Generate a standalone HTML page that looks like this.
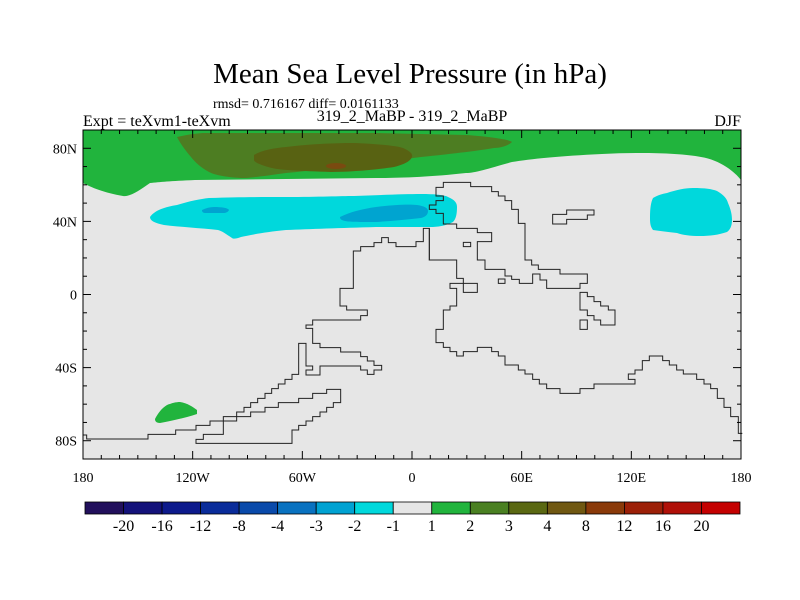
<!DOCTYPE html>
<html><head><meta charset="utf-8"><style>
body{margin:0;background:#fff;}
svg{display:block;font-family:"Liberation Serif",serif;}
</style></head><body>
<svg id="c" width="800" height="600" viewBox="0 0 800 600">
<rect width="800" height="600" fill="#fff"/>
<text x="410" y="83" font-size="29" text-anchor="middle">Mean Sea Level Pressure (in hPa)</text>
<text x="213" y="108" font-size="14">rmsd= 0.716167 diff= 0.0161133</text>
<text x="83" y="126" font-size="16">Expt = teXvm1-teXvm</text>
<text x="412" y="121" font-size="16" text-anchor="middle">319_2_MaBP - 319_2_MaBP</text>
<text x="741" y="126" font-size="16" text-anchor="end">DJF</text>
<g>
<rect x="83" y="130" width="658" height="329" fill="#e6e6e6"/>
<path fill="#21b43d" d="M83,130 H741 V180 C735,172 720,160 701,157 C680,153 640,152 602,154 C560,156 530,159 512,162 C490,168 475,173 466,173 C430,177 400,178 376,178 L286,179 L195,180 C170,181 160,182 150,183 C140,190 130,197 123,196 C105,193 90,187 83,183 Z"/>
<path fill="#4d7d22" d="M177,137 C190,134 200,133 205,133 L286,133 L376,133 L466,135 C495,137 510,140 512,142 C508,146 500,148 494,148 C470,152 440,155 421,157 C390,161 370,163 354,165 C320,169 300,172 286,173 C265,176 250,178 241,178 C225,177 215,175 209,172 C200,167 195,162 191,157 C185,150 180,143 177,137 Z"/>
<path fill="#586212" d="M254,155 C262,150 275,148 286,147 C310,144 335,143 354,143 C380,144 398,146 403,148 C410,151 413,154 412,157 C410,162 402,165 394,167 C375,170 350,172 331,172 C300,171 280,170 272,168 C260,165 254,162 254,160 Z"/>
<ellipse cx="336" cy="166" rx="10" ry="3" fill="#7a4a10"/>
<path fill="#00d8dc" d="M150,217 C155,210 165,207 177,205 C190,201 200,199 209,198 C240,197 260,197 286,197 C320,197 340,196 354,196 C380,195 405,194 421,194 C435,194 445,195 448,197 C455,200 457,203 457,207 C457,214 456,219 453,222 C445,226 438,227 430,227 C410,227 395,227 376,227 C340,228 310,229 286,230 C265,232 250,235 241,237 C236,239 233,239 232,238 C226,234 222,231 218,230 C200,228 180,227 164,225 C155,223 150,221 150,217 Z"/>
<path fill="#00a4d0" d="M202,210 C206,208 210,207 214,207 C222,207 228,208 229,210 C228,212 226,213 223,213 L206,213 C203,213 202,212 202,210 Z"/>
<path fill="#00a4d0" d="M340,217 C350,212 362,209 376,207 C392,205 408,204 417,205 C424,206 428,208 428,211 C428,215 425,217 421,218 C405,220 390,221 376,222 C360,222 350,222 345,221 C341,220 340,219 340,217 Z"/>
<path fill="#00d8dc" d="M653,198 C658,195 662,194 667,193 C676,190 685,188 693,188 C705,188 712,189 717,191 C724,195 727,199 728,203 C731,210 732,215 732,220 C732,226 730,230 727,232 C718,235 710,236 700,236 C690,236 683,235 677,233 C668,232 660,231 653,230 C650,226 650,222 650,217 C650,208 651,202 653,198 Z"/>
<path fill="#21b43d" d="M155,419 C158,413 162,408 167,405 C172,403 176,402 180,402 C187,403 193,407 197,410 L197,414 C185,418 170,421 160,423 C156,423 155,421 155,419 Z"/>
<g fill="none" stroke="#222" stroke-width="1" vector-effect="non-scaling-stroke">
<g transform="translate(400,170) scale(0.33333)">
<path vector-effect="non-scaling-stroke" d="M130,37 H212 V50 H275 V65 H295 V78 H315 V92 H335 V118 H355 V160 H375 V270 H395 V285 H415 V298 H480 V312 H562 V340 H540 V355 H440 V330 H420 V312 H398 V340 H358 V328 H335 V318 H315 V298 H255 V270 H232 V215 H275 V188 H232 V175 H170 V162 H130 V130 H108 V118 H88 V105 H108 V92 H130 V78 H108 V52 H130 Z"/>
<path vector-effect="non-scaling-stroke" d="M88,175 V270 H170 V325 H190 V340 H150 V355 H170 V408 H150 V420 H130 V478 H108 V518 H130 V532 H150 V545 H170 V558 H190 V545 H232 V532 H275 V545 H295 V558 H315 V585 H355 V600 H375 V612 H398 V628 H418 V642 H440 V656 H480 V670 H540 V656 H582 V642 H705 V628 H685 V612 H705 V600 H727 V572 H748 V558 H788 V572 H808 V585 H830 V600 H850 V612 H890 V628 H912 V642 H932 V656 H952 V685 H972 V712 H992 V740 H1015 V790 H1027"/>
<path vector-effect="non-scaling-stroke" d="M458,133 V162 H500 V148 H562 V135 H582 V120 H500 V133 Z"/>
<path vector-effect="non-scaling-stroke" d="M190,217 H212 V230 H190 Z M295,327 H315 V340 H295 Z M540,450 H562 V478 H540 Z M190,340 H232 V367 H190 Z"/>
<path vector-effect="non-scaling-stroke" d="M540,367 V420 H562 V437 H582 V450 H602 V465 H645 V420 H625 V408 H602 V395 H582 V380 H562 V367 Z"/>
</g>
<g transform="translate(80,170) scale(0.33333)">
<path vector-effect="non-scaling-stroke" d="M1080,270 H1048 V175 H1030 V215 H1008 V230 H948 V218 H925 V203 H905 V218 H882 V230 H842 V243 H820 V355 H780 V408 H800 V420 H862 V437 H842 V450 H698 V465 H678 V475 H698 V520 H720 V533 H782 V546 H842 V560 H862 V573 H882 V586 H905 V600 H882 V613 H862 V600 H842 V588 H720 V615 H678 V600 H698 V588 H678 V520 H656 V613 H636 V628 H615 V642 H595 V656 H575 V670 H555 V685 H533 V698 H512 V712 H492 V726 H470 V740 H430 V753 H390 V766 H348 V780 H287 V793 H204 V807 H20 V795 H8"/>
<path vector-effect="non-scaling-stroke" d="M348,808 V820 H636 V780 H656 V766 H678 V753 H698 V740 H720 V726 H740 V712 H760 V698 H782 V658 H740 V670 H698 V685 H656 V698 H595 V712 H555 V726 H512 V740 H470 V753 H430 V793 H370 V808 Z"/>
</g>
</g>
<rect x="83" y="130" width="658" height="329" fill="none" stroke="#000" stroke-width="1"/>
<g id="ticks"></g>
</g>
<g id="cbar"></g>
</svg>
<script>
const lonTicks=[-180,-120,-60,0,60,120,180];
const lonLabels=["180","120W","60W","0","60E","120E","180"];
const latTicks=[80,40,0,-40,-80];
const latLabels=["80N","40N","0","40S","80S"];
const levels=["-20","-16","-12","-8","-4","-3","-2","-1","1","2","3","4","8","12","16","20"];
const levelColors=["#22105c","#14127a","#0d1a8c","#0a2c9a","#0a4aaa","#0a72c0","#00a2d2","#00d8dc","#e6e6e6","#21b43d","#4a8022","#5a6812","#705812","#8a3a0a","#9c2008","#b01008","#c40000"];
const NS="http://www.w3.org/2000/svg";
const X0=83,X1=741,Y0=130,Y1=459;
const xs=l=>X0+(l+180)/360*(X1-X0);
const ys=l=>Y0+(90-l)/180*(Y1-Y0);
function mk(t,a,p){const e=document.createElementNS(NS,t);for(const k in a)e.setAttribute(k,a[k]);p.appendChild(e);return e;}
const tg=document.getElementById('ticks');
for(let l=-180;l<=180;l+=10){
 const x=xs(l),len=(l%60===0)?8:4;
 const a=mk('line',{x1:x,x2:x,y1:Y1,y2:Y1-len,stroke:'#000'},tg);
 
 
 const b=mk('line',{x1:x,x2:x,y1:Y0,y2:Y0+len,stroke:'#000'},tg);
 
 
}
for(let l=-90;l<=90;l+=10){
 const y=ys(l),len=(l%40===0&&Math.abs(l)!==0||l===0)?8:4;
 const a=mk('line',{x1:X0,x2:X0+len,y1:y,y2:y,stroke:'#000'},tg);
 
 
 const b=mk('line',{x1:X1,x2:X1-len,y1:y,y2:y,stroke:'#000'},tg);
 
 
}
lonTicks.forEach((l,i)=>{
 const t=mk('text',{x:xs(l),y:482,'font-size':14,'text-anchor':'middle'},tg);
 t.textContent=lonLabels[i];
 
 
});
latTicks.forEach((l,i)=>{
 const t=mk('text',{x:77,y:ys(l)+5,'font-size':14,'text-anchor':'end'},tg);
 t.textContent=latLabels[i];
 
 
});
const cb=document.getElementById('cbar');
const CB0=85,CB1=740,bw=(CB1-CB0)/levelColors.length;
levelColors.forEach((c,i)=>{
 const r=mk('rect',{x:CB0+i*bw,y:502,width:bw,height:12,fill:c,stroke:'#000','stroke-width':0.8},cb);
 
 
});
levels.forEach((s,i)=>{
 const t=mk('text',{x:CB0+(i+1)*bw,y:531,'font-size':16,'text-anchor':'middle'},cb);
 t.textContent=s;
 
 
});
</script>
</body></html>
